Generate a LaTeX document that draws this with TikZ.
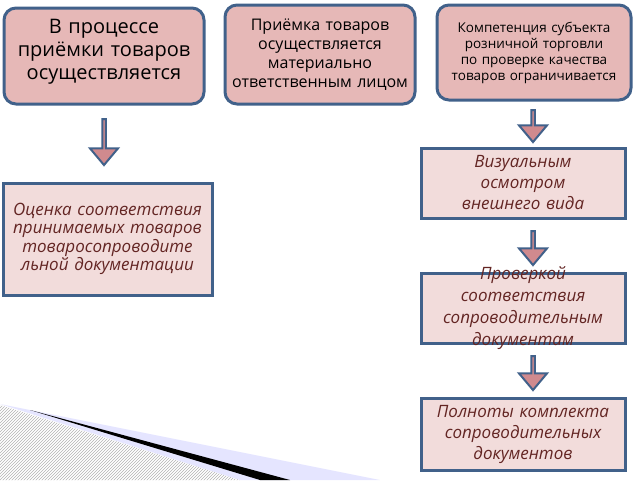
\documentclass[tikz,border=0pt]{standalone}
\usepackage{fontspec}
\setmainfont{Open Sans}
\usetikzlibrary{shapes.arrows,patterns}
\definecolor{bord}{HTML}{41618A}
\definecolor{topfill}{HTML}{E6B8B7}
\definecolor{boxfill}{HTML}{F2DCDB}
\definecolor{txt}{HTML}{632523}
\definecolor{arrfill}{HTML}{D08A8E}
\begin{document}
\begin{tikzpicture}[x=1pt,y=-1pt,
 topbox/.style={draw=bord,line width=3pt,fill=topfill,rounded corners=12pt,align=center,inner sep=0pt},
 plainbox/.style={draw=bord,line width=3pt,fill=boxfill,align=center,font=\itshape,text=txt,inner sep=0pt},
 downarr/.style={single arrow,shape border rotate=270,draw=bord,line width=2pt,fill=arrfill,minimum width=28pt,single arrow head extend=7pt,single arrow tip angle=80,minimum height=40pt,inner sep=0pt}]
\useasboundingbox (0,0) rectangle (640,480);
% decoration
\fill[pattern=north east lines,pattern color=gray!60] (0,405) -- (240,480) -- (0,480) -- cycle;
\fill[blue!10] (0,404) -- (380,480) -- (240,480) -- cycle;
\fill[black] (30,410) -- (290,480) -- (260,480) -- cycle;
% top boxes
\node[topbox,minimum width=200pt,minimum height=96pt] (t1) at (104,56) {};
\node[align=center,text width=180pt,font=\fontsize{20}{23}\selectfont,inner sep=0pt] at (104,52) {В процессе приёмки товаров осуществляетс\-я};
\node[topbox,minimum width=190pt,minimum height=99pt,text width=176pt,font=\fontsize{16}{19}\selectfont] (t2) at (320,54.5) {Приёмка товаров осуществляется материально ответственным лицом};
\node[topbox,minimum width=194pt,minimum height=95pt,text width=172pt,font=\fontsize{13.5}{16}\selectfont] (t3) at (534,52.5) {Компетенция субъекта розничной торговли по проверке качества товаров ограничивается};
% left
\node[plainbox,minimum width=209pt,minimum height=112pt] (l1) at (107.5,239) {};
\node[align=center,text width=190pt,font=\itshape\fontsize{17}{18.5}\selectfont,text=txt,inner sep=0pt] at (107.5,239) {Оценка соответствия принимаемых товаров товаросопроводите\\льной документации};
% right
\node[plainbox,minimum width=204pt,minimum height=70pt,text width=185pt,font=\itshape\fontsize{17}{21}\selectfont] (r1) at (523,183) {Визуальным осмотром внешнего вида};
\node[plainbox,minimum width=204pt,minimum height=70pt] (r2) at (523,308) {};
\node[align=center,text width=200pt,font=\itshape\fontsize{17}{22}\selectfont,text=txt,inner sep=0pt] at (523,308) {Проверкой соответствия сопроводительным документам};
\node[plainbox,minimum width=204pt,minimum height=72pt,text width=200pt,font=\itshape\fontsize{17}{21}\selectfont] (r3) at (523,434) {Полноты комплекта сопроводительных документов};
% arrows
\node[downarr,minimum height=46pt] (a1) at (104,141) {};
\node[downarr,minimum height=32pt] (a2) at (533,125) {};
\node[downarr,minimum height=34pt] (a3) at (533,247) {};
\node[downarr,minimum height=34pt] (a4) at (533,372) {};
\end{tikzpicture}
\end{document}
